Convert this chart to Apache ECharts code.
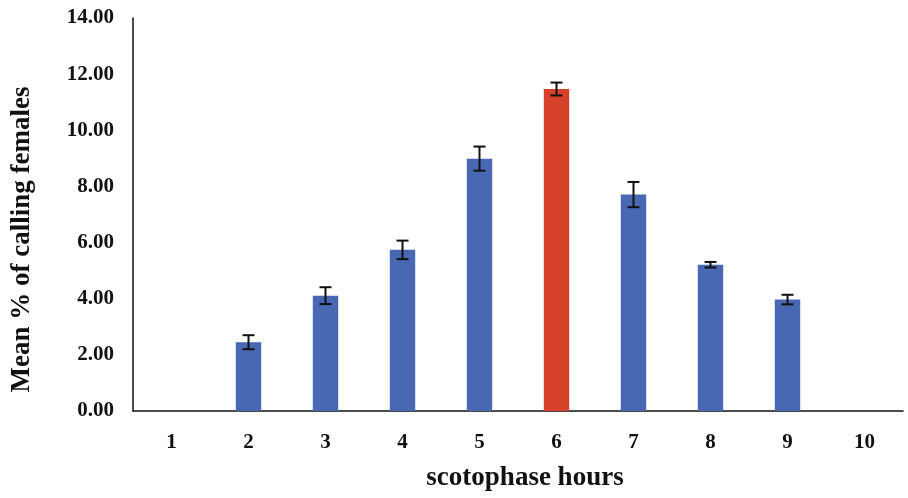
<!DOCTYPE html>
<html>
<head>
<meta charset="utf-8">
<script src="https://cdn.jsdelivr.net/npm/echarts@6/dist/echarts.min.js"></script>
<style>html,body{margin:0;padding:0;background:#fff;}#c{width:908px;height:498px;}</style>
</head>
<body>
<div id="c"></div>
<script>
const categories = ['1','2','3','4','5','6','7','8','9','10'];
const means = [0, 2.45, 4.11, 5.74, 8.99, 11.47, 7.71, 5.21, 3.97, 0];
const errors = [0, 0.25, 0.3, 0.33, 0.43, 0.23, 0.45, 0.1, 0.17, 0];
const highlightIndex = 5;
const yTicks = [0, 2, 4, 6, 8, 10, 12, 14];

const blue = '#4868b4';
const red = '#d6412a';
const font = '"Liberation Serif", "Times New Roman", serif';

const chart = echarts.init(document.getElementById('c'));
chart.setOption({
  animation: false,
  grid: { left: 133, top: 18, right: 5, bottom: 87 },
  xAxis: {
    type: 'category',
    data: categories,
    axisLine: { lineStyle: { color: '#111', width: 1.5 } },
    axisTick: { show: false },
    axisLabel: { color: '#111', fontFamily: font, fontWeight: 'bold', fontSize: 21, margin: 21 },
    name: 'scotophase hours',
    nameLocation: 'middle',
    nameGap: 54,
    nameTextStyle: { color: '#111', fontFamily: font, fontWeight: 'bold', fontSize: 27, padding: [0, 0, 0, 14] }
  },
  yAxis: {
    type: 'value',
    min: yTicks[0],
    max: yTicks[yTicks.length - 1],
    interval: 2,
    splitLine: { show: false },
    axisLine: { show: true, lineStyle: { color: '#111', width: 1.5 } },
    axisTick: { show: false },
    axisLabel: { color: '#111', fontFamily: font, fontWeight: 'bold', fontSize: 21, margin: 19,
      formatter: v => v.toFixed(2) },
    name: 'Mean % of calling females',
    nameLocation: 'middle',
    nameGap: 97,
    nameTextStyle: { color: '#111', fontFamily: font, fontWeight: 'bold', fontSize: 27, padding: [0, 50, 0, 0] }
  },
  series: [
    {
      type: 'bar',
      barWidth: '33%',
      data: means.map((v, i) => ({ value: v, itemStyle: { color: i === highlightIndex ? red : blue } }))
    },
    {
      type: 'custom',
      data: means.map((v, i) => [i, v, errors[i]]),
      renderItem: function (params, api) {
        const i = api.value(0), m = api.value(1), e = api.value(2);
        if (!e) return null;
        const top = api.coord([i, m + e]);
        const bot = api.coord([i, m - e]);
        const hw = 6;
        const st = { stroke: '#111', lineWidth: 2 };
        return {
          type: 'group',
          children: [
            { type: 'line', shape: { x1: top[0], y1: top[1], x2: bot[0], y2: bot[1] }, style: st },
            { type: 'line', shape: { x1: top[0] - hw, y1: top[1], x2: top[0] + hw, y2: top[1] }, style: st },
            { type: 'line', shape: { x1: bot[0] - hw, y1: bot[1], x2: bot[0] + hw, y2: bot[1] }, style: st }
          ]
        };
      },
      z: 10
    }
  ]
});
</script>
</body>
</html>
